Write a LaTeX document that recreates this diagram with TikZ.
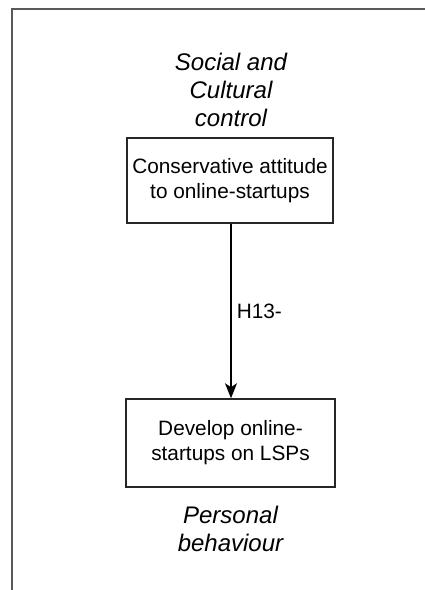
\documentclass[tikz,border=0pt]{standalone}
\usepackage{fontspec}
\setmainfont{Liberation Sans}
\usetikzlibrary{arrows.meta}
\tikzset{
  framebox/.style={draw=black!65, line width=2pt},
  factor/.style={draw=black!85, line width=1.5pt, fill=white, inner sep=0pt,
    align=center, font=\fontsize{20.8}{25}\selectfont},
  category/.style={align=center, inner sep=0pt,
    font=\fontsize{24}{28}\selectfont\itshape},
  link/.style={draw=black, line width=1.5pt, -{Stealth[length=15pt,width=12pt,inset=4pt]}},
  linklabel/.style={anchor=west, inner sep=0pt, font=\fontsize{20.8}{25}\selectfont},
}
\begin{document}
\begin{tikzpicture}[x=1pt, y=-1pt]
  \useasboundingbox (0,0) rectangle (425,590);
  % open frame: left and top edges only
  \draw[framebox] (12,590) -- (12,9) -- (425,9);

  \node[category] (social) at (231,90) {Social and\\Cultural\\control};
  \node[factor, minimum width=206pt, minimum height=85pt] (attitude) at (230,180.5)
    {Conservative attitude\\to online-startups};
  \node[factor, minimum width=209pt, minimum height=88pt] (develop) at (230.5,443)
    {Develop online-\\startups on LSPs};
  \node[category] (personal) at (230.5,529) {Personal\\behaviour};

  \draw[link] (attitude.south -| 231,0) -- (develop.north -| 231,0)
    node[pos=0.5, linklabel, xshift=5pt] (h13) {H13-};
\end{tikzpicture}
\end{document}
